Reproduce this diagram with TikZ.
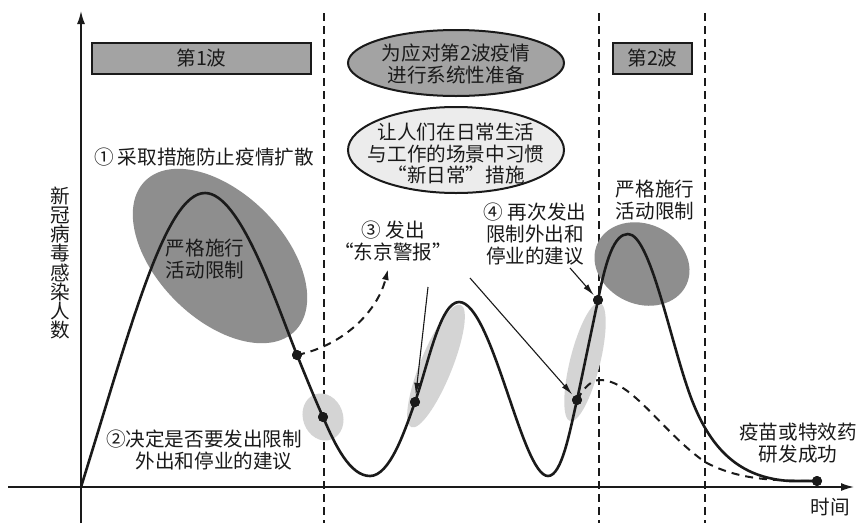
\documentclass[tikz,border=0pt]{standalone}
\usepackage{fontspec}
\setmainfont{Noto Sans CJK SC}
\usetikzlibrary{arrows.meta,shapes.geometric}
\definecolor{ink}{HTML}{1A1A1A}
\definecolor{boxgray}{HTML}{A3A3A3}
\definecolor{darkfill}{HTML}{8E8E8E}
\definecolor{lightfill}{HTML}{D4D4D4}
\definecolor{paleFill}{HTML}{ECECEC}
\begin{document}
\begin{tikzpicture}[x=1pt,y=-1pt,
  lbl/.style={font=\fontsize{19.6}{22}\selectfont, text=ink, inner sep=0pt, align=center},
  wavebox/.style={draw=ink, line width=2pt, fill=boxgray, inner sep=0pt, font=\fontsize{19.6}{22}\selectfont, text=ink},
  blob/.style={ellipse, inner sep=0pt, draw=none},
  topell/.style={ellipse, inner sep=0pt, draw=ink, line width=2pt},
  dotnode/.style={circle, fill=ink, inner sep=0pt, minimum size=10pt},
  vdash/.style={draw=ink, line width=1.6pt, dash pattern=on 8pt off 5pt},
  axis/.style={draw=ink, line width=1.6pt, -{Latex[length=13pt,width=8pt]}},
  wave/.style={draw=ink, line width=2.6pt, line join=round},
  altwave/.style={draw=ink, line width=2pt, dash pattern=on 8pt off 6pt},
  pointer/.style={draw=ink, line width=1.1pt, -{Latex[length=12pt,width=6pt]}}
]
\useasboundingbox[fill=white] (0,0) rectangle (859,523);

% dashed period separators
\coordinate (v1t) at (324,13); \coordinate (v1b) at (324,523);
\coordinate (v2t) at (599,13); \coordinate (v2b) at (599,523);
\coordinate (v3t) at (705,13); \coordinate (v3b) at (705,523);
\draw[vdash] (v1t) -- (v1b);
\draw[vdash] (v2t) -- (v2b);
\draw[vdash] (v3t) -- (v3b);

% axes
\coordinate (yb) at (81,523); \coordinate (yt) at (81,11);
\coordinate (xl) at (8,487); \coordinate (xr) at (854,487);
\draw[axis] (yb) -- (yt);
\draw[axis] (xl) -- (xr);

% shaded blobs
\node[blob, fill=darkfill, minimum width=212pt, minimum height=126pt, rotate=-45] (big1) at (220,256) {};
\node[blob, fill=darkfill, minimum width=98pt, minimum height=80pt, rotate=-25] (big2) at (642,264) {};
\node[blob, fill=lightfill, minimum width=48pt, minimum height=40pt, rotate=-70] (sm2) at (323,417) {};
\node[blob, fill=lightfill, minimum width=132pt, minimum height=32pt, rotate=68] (sm3) at (436,366) {};
\node[blob, fill=lightfill, minimum width=122pt, minimum height=30pt, rotate=76] (sm4) at (585,362) {};

% top boxes and ellipses
\node[wavebox, minimum width=219pt, minimum height=31pt] (b1) at (201.5,58.5) {第1波};
\node[wavebox, minimum width=79pt, minimum height=31pt] (b2) at (652.5,58.5) {第2波};
\node[topell, fill=boxgray, minimum width=216pt, minimum height=66pt] (e1) at (456,63) {};
\node[lbl] (t1) at (456,64) {为应对第2波疫情\\进行系统性准备};
\node[topell, fill=paleFill, minimum width=216pt, minimum height=86pt] (e2) at (456,150) {};
\node[lbl, font=\fontsize{19.6}{21.5}\selectfont] (t2) at (456,154) {让人们在日常生活\\与工作的场景中习惯\\“新日常”措施};

% curve key points
\coordinate (O) at (81,487);
\coordinate (pk1) at (205,193);
\coordinate (mn1) at (370,476);
\coordinate (pk2) at (459,302);
\coordinate (mn2) at (548,476);
\coordinate (pk3) at (628,234);
\coordinate (mid3) at (690,395);
\coordinate (tailc) at (790,481);

\node[dotnode] (d1) at (297,355) {};
\node[dotnode] (d2) at (323,417) {};
\node[dotnode] (d3) at (415,402) {};
\node[dotnode] (d4) at (577,400) {};
\node[dotnode] (d5) at (598,300) {};
\node[dotnode] (d6) at (817,481) {};

% alternative (dashed) paths
\coordinate (a1e) at (388,269);
\draw[altwave, -{Latex[length=11pt,width=7pt]}] (d1.center) .. controls (345,345) and (378,310) .. (a1e);
\coordinate (alt2pk) at (600,380);
\coordinate (alt2m) at (705,462);
\draw[altwave] (d4.center) .. controls (585,386) and (592,380) .. (alt2pk)
  .. controls (632,380) and (662,432) .. (alt2m)
  .. controls (735,478) and (765,481) .. (d6.center);

% main curve
\draw[wave] (O) .. controls (130,330) and (165,193) .. (pk1)
  .. controls (240,193) and (275,300) .. (d1.center)
  .. controls (306,377) and (314,397) .. (d2.center)
  .. controls (335,445) and (350,476) .. (mn1)
  .. controls (390,476) and (405,430) .. (d3.center)
  .. controls (428,365) and (440,302) .. (pk2)
  .. controls (492,302) and (522,476) .. (mn2)
  .. controls (562,476) and (570,430) .. (d4.center)
  .. controls (584,367) and (591,333) .. (d5.center)
  .. controls (606,260) and (614,234) .. (pk3)
  .. controls (650,234) and (670,340) .. (mid3)
  .. controls (710,450) and (740,478) .. (tailc) -- (d6.center);

% redraw dots on top
\foreach \d in {d1,d2,d3,d4,d5,d6} \fill[ink] (\d) circle[radius=5];

% pointers
\coordinate (a3s) at (428,287);
\coordinate (a4s) at (470,278);
\coordinate (a5s) at (570,268);
\draw[pointer, shorten >=2pt] (a3s) -- (d3);
\draw[pointer, shorten >=2pt] (a4s) -- (d4);
\draw[pointer, shorten >=1pt] (a5s) -- (d5);

% labels
\node[lbl] (s1) at (204,157) {① 采取措施防止疫情扩散};
\node[lbl] (r1) at (205,259) {严格施行\\活动限制};
\node[lbl] (s2) at (204,450) {②决定是否要发出限制\\\hspace*{20pt}外出和停业的建议};
\node[lbl] (s3) at (393,241) {③ 发出\\“东京警报”};
\node[lbl] (s4) at (535,234) {④ 再次发出\\限制外出和\\停业的建议};
\node[lbl] (r2) at (655,200) {严格施行\\活动限制};
\node[lbl] (vac) at (798,443) {疫苗或特效药\\研发成功};
\node[lbl] (tm) at (830,507) {时间};
\node[lbl, font=\fontsize{19.6}{19.2}\selectfont] (ylab) at (60,263) {新\\冠\\病\\毒\\感\\染\\人\\数};
\end{tikzpicture}
\end{document}
